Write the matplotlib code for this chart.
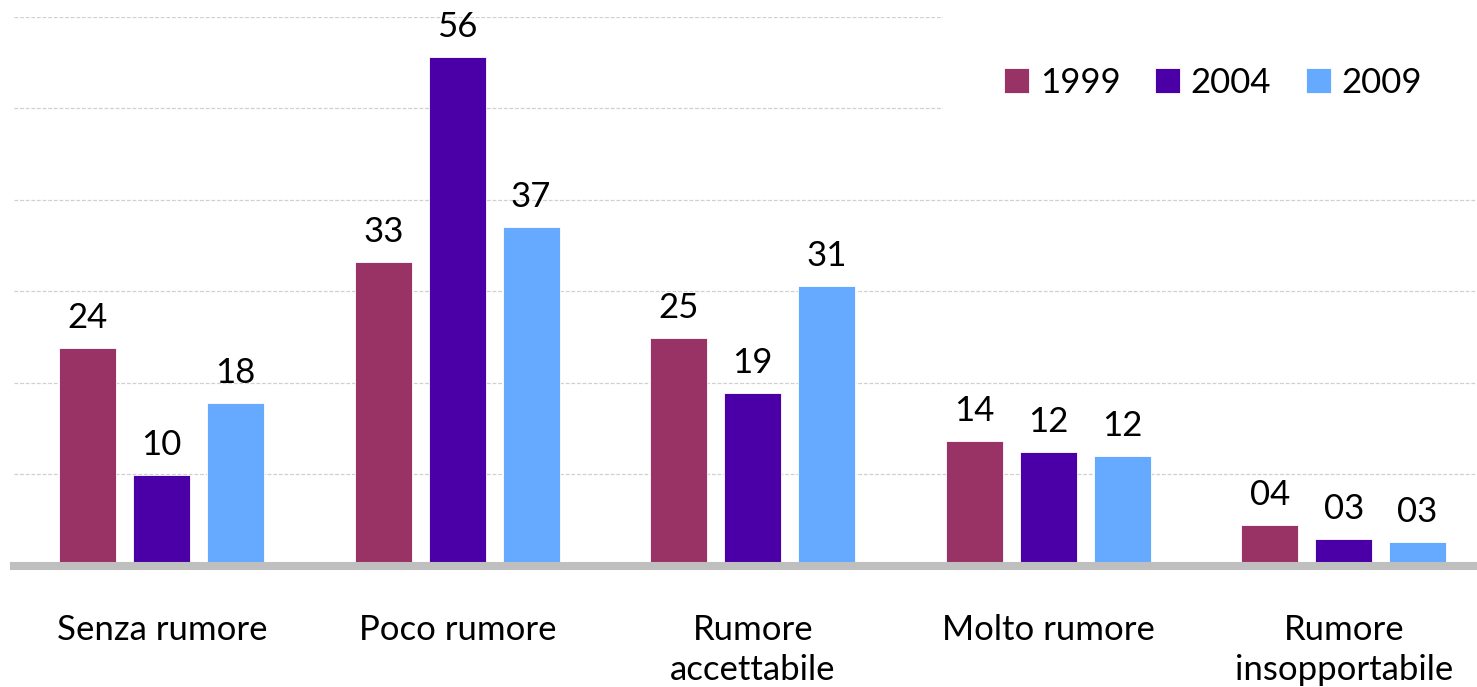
import matplotlib
matplotlib.use("Agg")
import matplotlib.pyplot as plt
from matplotlib.patches import Rectangle
import numpy as np

categories = ["Senza rumore", "Poco rumore", "Rumore\naccettabile", "Molto rumore", "Rumore\ninsopportabile"]
series_names = ["1999", "2004", "2009"]
values_1999 = [23.8, 33.2, 24.9, 13.6, 4.4]
values_2004 = [9.9, 55.6, 18.9, 12.4, 2.9]
values_2009 = [17.8, 37.0, 30.6, 12.0, 2.6]
colors = ["#993366", "#4A00A6", "#66AAFF"]

plt.rcParams['font.family'] = ['Lato', 'DejaVu Sans']
FS = 25

W, H = 1477, 687
fig = plt.figure(figsize=(W / 100, H / 100), dpi=100)
fig.patch.set_facecolor("white")
ax = fig.add_axes([14 / W, 1 - 565.5 / H, 1477.5 / W, 548.8 / H])

x = np.arange(len(categories))
offsets = [-0.25, 0.0, 0.25]
bw = 0.193
for vals, name, col, off in zip([values_1999, values_2004, values_2009], series_names, colors, offsets):
    bars = ax.bar(x + off, vals, width=bw, color=col, label=name, zorder=2,
                  edgecolor="white", linewidth=0.6)
    for b, v in zip(bars, vals):
        ax.annotate(f"{round(v):02d}", (b.get_x() + b.get_width() / 2, v),
                    xytext=(0, 14.4), textcoords="offset points",
                    ha="center", va="baseline", fontsize=FS, color="black")

ax.set_xlim(-0.5, len(categories) - 0.5)
ax.set_ylim(0, 60)
ax.set_yticks(np.arange(0, 61, 10))
ax.yaxis.grid(True, color="#d0d0d0", linestyle=(0, (3, 1.5)), linewidth=0.9, zorder=0)
ax.set_axisbelow(True)
ax.tick_params(axis="y", left=False, labelleft=False)
ax.set_xticks(x)
ax.set_xticklabels(categories, fontsize=FS, linespacing=1.32)
ax.tick_params(axis="x", length=0, pad=35)
for s in ["left", "right", "top"]:
    ax.spines[s].set_visible(False)
ax.spines["bottom"].set_color("#bfbfbf")
ax.spines["bottom"].set_linewidth(5.8)
ax.spines["bottom"].set_zorder(3)

# white legend area covering gridlines
rect = Rectangle((943 / W, 1 - 175 / H), 1 - 943 / W, 175 / H,
                 transform=fig.transFigure, facecolor="white",
                 edgecolor="none", zorder=5, clip_on=False)
ax.add_artist(rect)

leg = ax.legend(loc="center left", bbox_to_anchor=(987 / W, 1 - 83 / H),
                bbox_transform=fig.transFigure, ncol=3, frameon=False,
                fontsize=FS, handlelength=0.72, handleheight=0.72,
                handletextpad=0.3, columnspacing=1.0, borderpad=0)
leg.set_zorder(6)

fig.savefig("out.png", dpi=100, facecolor="white")
